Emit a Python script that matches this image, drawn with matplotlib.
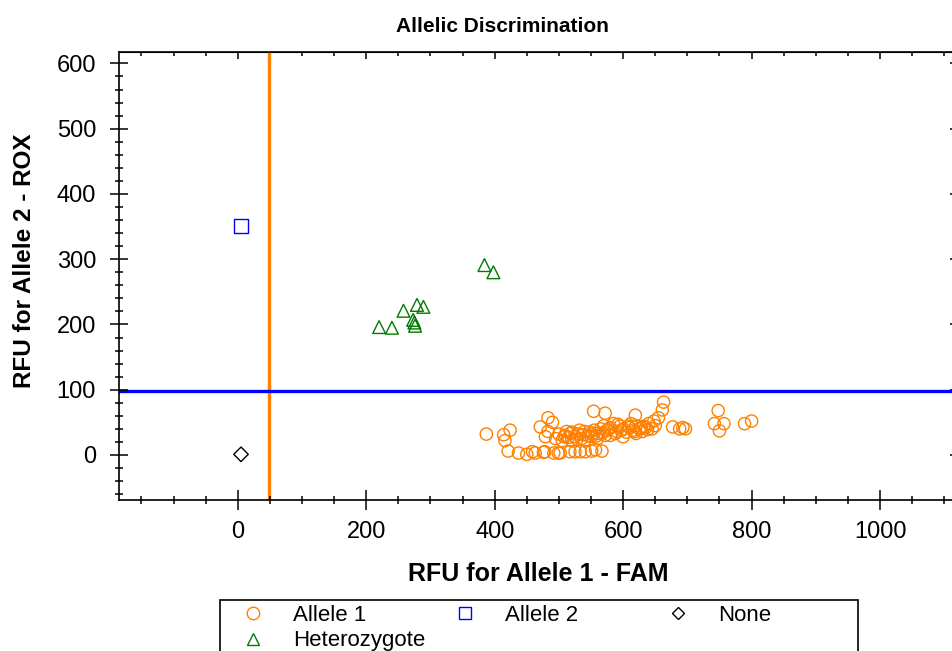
import matplotlib.pyplot as plt
from matplotlib.lines import Line2D
from matplotlib.patches import Rectangle
from matplotlib import ticker

plt.rcParams['font.family'] = ['Liberation Sans', 'DejaVu Sans']

# data (RFU values)
allele1_x = [387, 414, 424, 416, 421, 437, 450, 463, 476, 492, 502, 517, 533, 459, 478,
             499, 525, 541, 557, 551, 567,
             471, 483, 479, 483, 490, 554, 572, 619, 663, 661, 655, 677,
             495, 500, 505, 510, 515, 520, 525, 530, 535, 540, 545, 550, 555, 560,
             565, 570, 575, 580, 585, 590, 595, 600, 605, 610, 615, 620, 625, 630,
             635, 640, 645, 650, 580, 600, 620, 560, 540, 520,
             508, 518, 528, 538, 548, 558, 568, 578, 588, 598, 608, 618, 628, 638,
             512, 532, 552, 572, 592, 612, 632, 648,
             688, 693, 697, 748, 742, 757, 750, 789, 800]
allele1_y = [32, 31, 38, 22, 6, 3, 1, 3, 4, 3, 3, 5, 5, 5, 5,
             3, 5, 5, 8, 6, 6,
             43, 57, 28, 36, 50, 67, 64, 61, 81, 69, 57, 43,
             25, 32, 22, 30, 27, 35, 28, 32, 25, 36, 30, 28, 38, 33,
             40, 45, 38, 42, 48, 36, 44, 40, 35, 42, 38, 45, 40, 36,
             42, 48, 40, 45, 30, 28, 33, 25, 22, 22,
             28, 33, 24, 31, 35, 29, 34, 40, 33, 38, 44, 36, 42, 39,
             36, 38, 32, 30, 47, 48, 44, 52,
             40, 42, 40, 68, 48, 48, 37, 48, 52]

allele2_x = [5]
allele2_y = [351]

none_x = [5]
none_y = [1]

het_x = [220, 240, 258, 273, 279, 289, 276, 275, 384, 398]
het_y = [196, 195, 221, 207, 230, 227, 198, 203, 291, 280]

# thresholds
fam_cut = 49
rox_cut = 98

W, H = 952, 651
fig = plt.figure(figsize=(W / 100, H / 100), dpi=100)
x0, x1 = 119, 960.3
y0, y1 = 51.7, 500
ax = fig.add_axes([x0 / W, 1 - y1 / H, (x1 - x0) / W, (y1 - y0) / H])

orange = '#FF8000'
blue = '#0000FF'
green = '#007A00'

ax.axvline(fam_cut, color=orange, lw=2.4, zorder=1)
ax.axhline(rox_cut, color=blue, lw=2.4, zorder=1)

ax.scatter(allele1_x, allele1_y, s=8.8 ** 2, facecolors='none', edgecolors=orange,
           linewidths=1.0, marker='o', zorder=3)
ax.scatter(allele2_x, allele2_y, s=10.5 ** 2, facecolors='none', edgecolors=blue,
           linewidths=1.0, marker='s', zorder=3)
ax.scatter(none_x, none_y, s=7.4 ** 2, facecolors='none', edgecolors='black',
           linewidths=1.0, marker='D', zorder=3)
ax.scatter(het_x, het_y, s=9.2 ** 2, facecolors='none', edgecolors=green,
           linewidths=1.0, marker='^', zorder=3)

ax.set_xlim(-185, 1125)
ax.set_ylim(-69, 618)

ax.xaxis.set_major_locator(ticker.MultipleLocator(200))
ax.xaxis.set_minor_locator(ticker.MultipleLocator(50))
ax.yaxis.set_major_locator(ticker.MultipleLocator(100))
ax.yaxis.set_minor_locator(ticker.MultipleLocator(20))

for s in ax.spines.values():
    s.set_linewidth(1.2)
ax.tick_params(axis='x', which='major', direction='inout', length=14, width=1.1, pad=8,
               labelsize=17)
ax.tick_params(axis='x', which='minor', direction='inout', length=6, width=1.1)
ax.tick_params(axis='y', which='major', direction='inout', length=13, width=1.1, pad=10,
               labelsize=17)
ax.tick_params(axis='y', which='minor', direction='inout', length=6, width=1.1)

# inward ticks on top and right edges
top = ax.secondary_xaxis('top')
top.xaxis.set_major_locator(ticker.MultipleLocator(200))
top.xaxis.set_minor_locator(ticker.MultipleLocator(50))
top.tick_params(which='major', direction='in', length=5, width=1.1, labeltop=False)
top.tick_params(which='minor', direction='in', length=3, width=1.1)
right = ax.secondary_yaxis('right')
right.yaxis.set_major_locator(ticker.MultipleLocator(100))
right.yaxis.set_minor_locator(ticker.NullLocator())
right.tick_params(which='major', direction='in', length=7, width=1.1, labelright=False)

fig.text(502 / W, 1 - 27 / H, 'Allelic Discrimination', ha='center', va='center',
         fontsize=15, fontweight='bold')
fig.text(538 / W, 1 - 574 / H, 'RFU for Allele 1 - FAM', ha='center', va='center',
         fontsize=18, fontweight='bold')
fig.text(25 / W, 1 - 261 / H, 'RFU for Allele 2 - ROX', ha='center', va='center',
         rotation=90, fontsize=17.5, fontweight='bold')

# legend box, cut off by the lower edge like the reference
fig.patches.append(Rectangle((220 / W, -0.05), 638 / W, 0.05 + 1 - 600 / H,
                             transform=fig.transFigure, facecolor='white',
                             edgecolor='black', linewidth=1.2))


def handle(marker, color, ms):
    return Line2D([], [], linestyle='none', marker=marker, markersize=ms,
                  markerfacecolor='none', markeredgecolor=color, markeredgewidth=1.0)


h_a1 = handle('o', orange, 9.0)
h_a2 = handle('s', blue, 9.0)
h_no = handle('D', 'black', 6.6)
h_he = handle('^', green, 9.2)

leg_kw = dict(loc='upper left', frameon=False, fontsize=16, handlelength=1.0,
              handletextpad=1.3, borderpad=0, borderaxespad=0, labelspacing=0.2)
for hs, labs, px in [([h_a1, h_he], ['Allele 1', 'Heterozygote'], 242),
                     ([h_a2], ['Allele 2'], 454),
                     ([h_no], ['None'], 667)]:
    lg = fig.legend(hs, labs, bbox_to_anchor=(px / W, 1 - 605 / H), **leg_kw)

fig.savefig('out.png', dpi=100)
